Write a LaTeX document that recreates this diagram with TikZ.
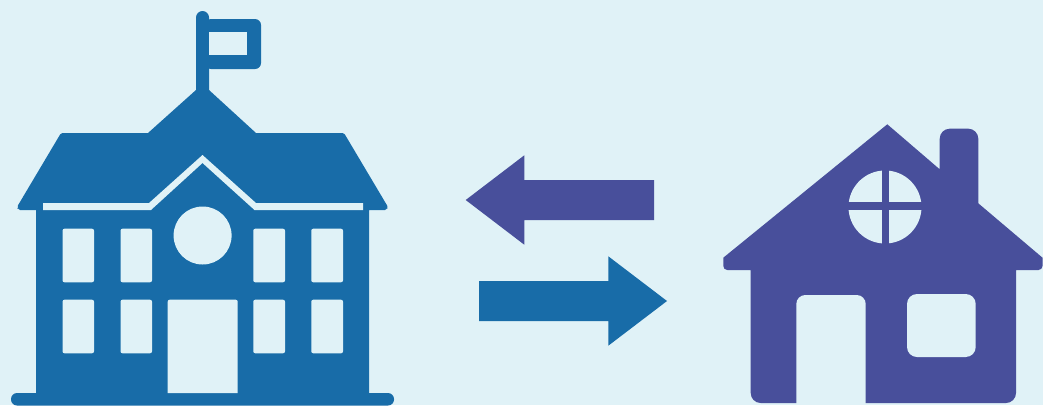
\documentclass[tikz,border=0pt]{standalone}
\definecolor{bgc}{HTML}{E0F2F7}
\definecolor{schoolc}{HTML}{186CA8}
\definecolor{housec}{HTML}{484F9B}
\tikzset{
  school/.style={fill=schoolc,draw=none},
  house/.style={fill=housec,draw=none},
  hole/.style={fill=bgc,draw=none},
  win/.style={hole,rounded corners=2pt},
}
\begin{document}
\begin{tikzpicture}[x=1pt,y=-1pt]
\fill[bgc] (0,0) rectangle (1043,405);
\useasboundingbox (0,0) rectangle (1043,405);
\clip (0,0) rectangle (1043,405);
% --- school ---
\fill[school,rounded corners=6.5pt] (196,110) -- (196,11) -- (209,11) -- (209,110) -- cycle;
\fill[school,rounded corners=6pt] (205,19) -- (261,19) -- (261,69) -- (205,69) -- cycle;
\fill[hole] (209,32) rectangle (247,55);
% roof and body
\fill[school] (196,90) -- (209,90) -- (256,133) -- (342,133)
  [rounded corners=1.5pt] -- (344,133) -- (388,207) [rounded corners=2pt] -- (387,210) [sharp corners] -- (369,210)
  -- (369,393) -- (36,393) -- (36,210)
  [rounded corners=2pt] -- (18,210) -- (17,207) [rounded corners=1.5pt] -- (61,133) [sharp corners] -- (63,133) -- (148,133) -- cycle;
\fill[school,rounded corners=6pt] (11,393) rectangle (394,405.5);
% white stripe
\fill[hole] (43,203) -- (149,203) -- (202.5,155) -- (256,203) -- (363,203) -- (363,210)
  -- (254.5,210) -- (202.5,163) -- (151,210) -- (43,210) -- cycle;
\fill[hole] (202.6,235.5) circle (29);
% windows
\foreach \xa/\xb in {62.5/94,120.5/152,253.3/285,311.3/343}{
  \fill[win] (\xa,228.7) rectangle (\xb,282.3);
  \fill[win] (\xa,299.7) rectangle (\xb,353.3);
}
% door
\fill[hole] (167.7,393) [rounded corners=2pt] -- (167.7,299.7) -- (237.7,299.7) [sharp corners] -- (237.7,393) -- cycle;
% --- arrows ---
\fill[house] (465.7,200) -- (524.3,155.3) -- (524.3,180) -- (654,180) -- (654,220) -- (524.3,220) -- (524.3,244.7) -- cycle;
\fill[school] (667,301) -- (608.3,256.3) -- (608.3,281) -- (479,281) -- (479,321) -- (608.3,321) -- (608.3,345.7) -- cycle;
% --- house ---
\fill[house] (887.3,124.3) -- (939.7,169.3)
  [rounded corners=10pt] -- (939.7,128.7) -- (978.3,128.7) [sharp corners] -- (978.3,203.3)
  -- (1042.5,257.7) [rounded corners=4pt] -- (1042.5,270) [sharp corners] -- (1016,270)
  [rounded corners=10pt] -- (1016,403) -- (750.7,403) [sharp corners] -- (750.7,270)
  [rounded corners=4pt] -- (723.3,270) [sharp corners] -- (723.3,257.7) -- cycle;
% door
\fill[hole] (796.3,404) [rounded corners=9pt] -- (796.3,295) -- (865.7,295) [sharp corners] -- (865.7,404) -- cycle;
\fill[hole,rounded corners=10pt] (907,294) rectangle (975.7,357);
% round window
\fill[hole] (885,207) circle (36.5);
\fill[house] (882,168) rectangle (889.3,246);
\fill[house] (847,202.3) rectangle (923,210);
\end{tikzpicture}
\end{document}
